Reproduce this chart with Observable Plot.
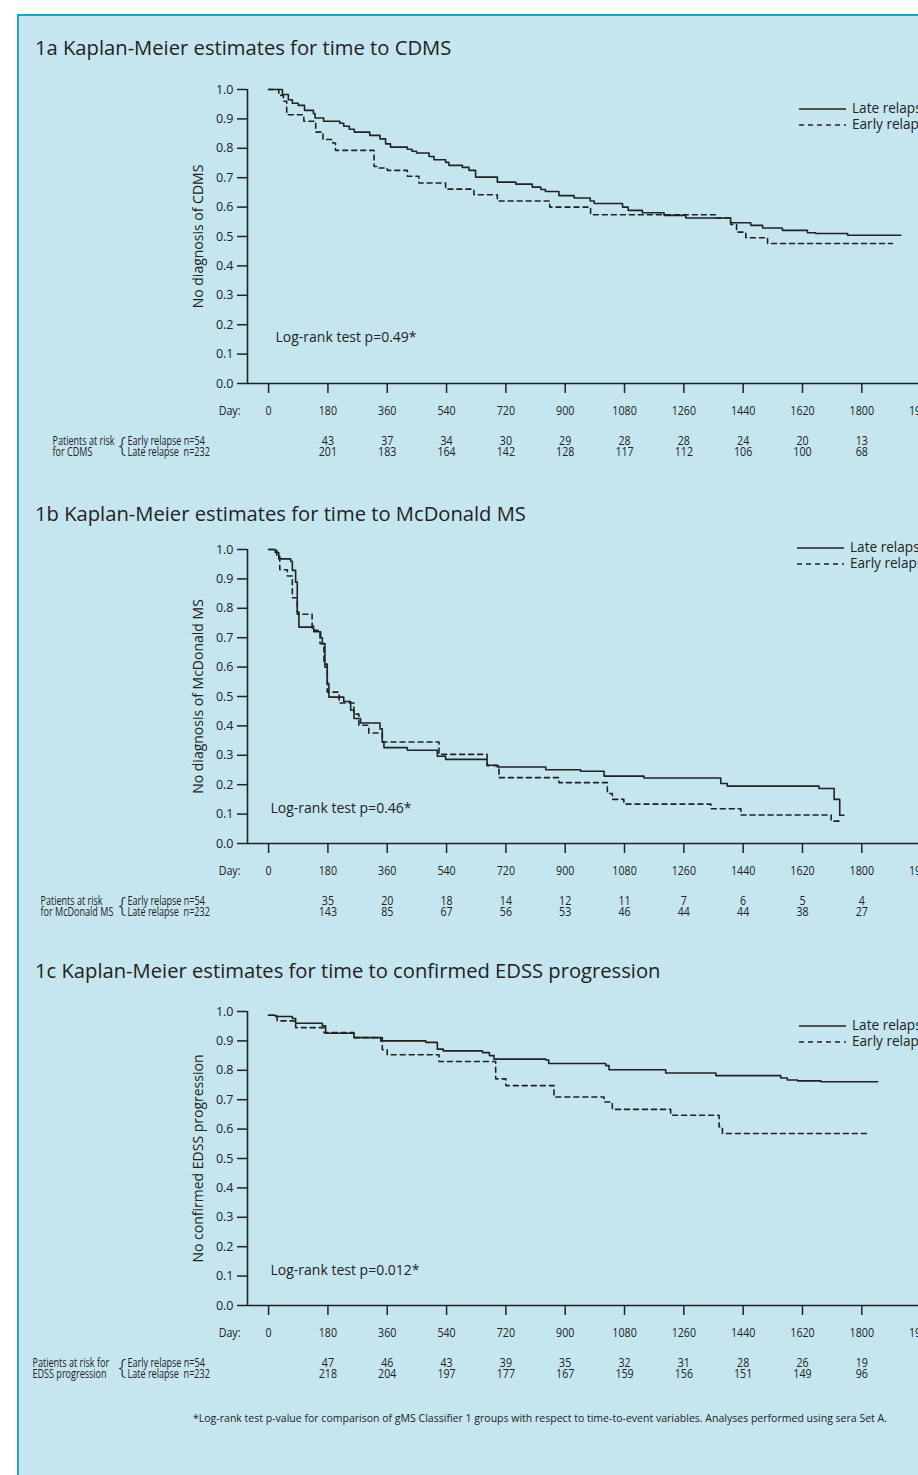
<!DOCTYPE html>
<html><head><meta charset="utf-8">
<script src="https://cdn.jsdelivr.net/npm/d3@7"></script>
<script src="https://cdn.jsdelivr.net/npm/@observablehq/plot@0.6"></script>
<style>
html,body{margin:0;padding:0;background:#fff;overflow:hidden;width:918px;height:1475px;position:relative;}
#box{position:absolute;left:17px;top:14px;width:1100px;height:1500px;background:#c5e6ef;border-left:2.5px solid #1aa4c8;border-top:2.5px solid #1aa4c8;box-sizing:border-box;}
.abs{position:absolute;white-space:nowrap;}
.title{font-family:"Open Sans",sans-serif;font-size:20.2px;line-height:24px;color:#222;}
.legend{font-family:"Open Sans",sans-serif;font-size:13.6px;color:#222;line-height:16px;}
.legend svg{vertical-align:middle;margin-right:6px;}
.foot{font-family:"Open Sans",sans-serif;font-size:11.5px;color:#222;line-height:14px;transform-origin:0 50%;}
svg.chart{max-width:none !important;height:auto;}
</style></head><body>
<div id="box"></div>
<script>
// ---------- data ----------
const dayTicks = [0,180,360,540,720,900,1080,1260,1440,1620,1800,1980];
const yTicks = [0,0.1,0.2,0.3,0.4,0.5,0.6,0.7,0.8,0.9,1.0];

// 1a CDMS
const cdmsLateDays = [0,42,60,72,90,109,136,141,167,216,228,245,260,307,338,355,370,421,435,449,487,502,537,547,588,608,628,694,750,800,826,840,881,927,976,988,1074,1091,1134,1200,1266,1402,1463,1499,1559,1635,1660,1757,1918];
const cdmsLateSurv = [1.0,0.983,0.965,0.953,0.946,0.929,0.918,0.903,0.892,0.885,0.875,0.865,0.855,0.844,0.832,0.815,0.804,0.797,0.79,0.784,0.772,0.761,0.752,0.742,0.735,0.725,0.702,0.685,0.678,0.668,0.66,0.653,0.639,0.631,0.621,0.612,0.60,0.589,0.581,0.572,0.563,0.547,0.538,0.529,0.521,0.513,0.51,0.504,0.504];
const cdmsEarlyDays = [0,31,45,55,107,143,165,195,203,320,331,360,421,456,537,623,694,853,977,1357,1402,1420,1448,1514,1893];
const cdmsEarlySurv = [1.0,0.98,0.96,0.914,0.892,0.855,0.83,0.818,0.793,0.738,0.733,0.725,0.705,0.682,0.661,0.642,0.621,0.60,0.574,0.563,0.541,0.515,0.496,0.476,0.476];
const cdmsRiskEarly = [43,37,34,30,29,28,28,24,20,13,0];
const cdmsRiskLate = [201,183,164,142,128,117,112,106,100,68,0];

// 1b McDonald MS
const mcdLateDays = [0,20,31,67,72,82,87,92,132,137,150,158,163,171,178,183,228,249,259,279,338,345,350,421,512,537,663,694,841,947,1018,1139,1372,1392,1670,1716,1733,1746];
const mcdLateSurv = [1.0,0.99,0.968,0.96,0.929,0.889,0.787,0.736,0.733,0.725,0.72,0.70,0.68,0.60,0.544,0.498,0.483,0.453,0.425,0.41,0.39,0.345,0.326,0.317,0.297,0.286,0.266,0.26,0.251,0.246,0.229,0.223,0.204,0.195,0.187,0.15,0.096,0.096];
const mcdEarlyDays = [0,25,34,57,72,87,132,137,156,168,178,214,259,274,304,345,517,663,699,881,1028,1043,1078,1342,1433,1707,1731];
const mcdEarlySurv = [1.0,0.98,0.931,0.91,0.836,0.78,0.74,0.72,0.68,0.61,0.515,0.478,0.44,0.402,0.376,0.345,0.303,0.265,0.224,0.207,0.17,0.15,0.134,0.118,0.097,0.076,0.076];
const mcdRiskEarly = [35,20,18,14,12,11,7,6,5,4,0];
const mcdRiskLate = [143,85,67,56,53,46,44,44,38,27,0];

// 1c EDSS progression
const edssLateDays = [0,21,72,82,163,173,259,340,477,512,530,649,670,684,841,850,1023,1033,1205,1357,1554,1574,1605,1676,1848];
const edssLateSurv = [0.987,0.983,0.976,0.96,0.951,0.926,0.911,0.90,0.895,0.872,0.866,0.86,0.85,0.838,0.835,0.823,0.816,0.802,0.791,0.782,0.774,0.767,0.764,0.761,0.761];
const edssEarlyDays = [0,26,82,168,259,345,360,517,689,720,866,1018,1043,1220,1367,1377,1817];
const edssEarlySurv = [0.987,0.968,0.945,0.928,0.911,0.87,0.853,0.83,0.771,0.748,0.709,0.692,0.667,0.647,0.607,0.585,0.585];
const edssRiskEarly = [47,46,43,39,35,32,31,28,26,19,0];
const edssRiskLate = [218,204,197,177,167,159,156,151,149,96,0];

const seriesNames = ["Late relapse", "Early relapse"];
const rowLabels = ["Early relapse n=54", "Late relapse\u00a0 n=232"];

// ---------- drawing ----------
const INK = "#222";
const F_REG = "'Open Sans', sans-serif";
const COND_TXT = 0.67;  // horizontal squeeze imitating a condensed face (words)
const COND_NUM = 0.79;  // (numbers)
const xDomain = [-64, 2060];

function put(el, left, top) {
  el.style.position = "absolute"; el.style.left = left + "px"; el.style.top = top + "px";
  document.body.appendChild(el); return el;
}
function div(cls, text, left, top) {
  const d = document.createElement("div"); d.className = "abs " + cls; d.textContent = text;
  return put(d, left, top);
}
function legend(left, top) {
  const wrap = document.createElement("div"); wrap.className = "abs legend";
  seriesNames.forEach((name, i) => {
    const row = document.createElement("div");
    row.innerHTML = `<svg width="47" height="6"><line x1="0" x2="47" y1="3" y2="3" stroke="${INK}" stroke-width="1.5" ${i ? 'stroke-dasharray="5,4"' : ''}/></svg><span>${name}</span>`;
    wrap.appendChild(row);
  });
  return put(wrap, left, top);
}
function condense(svg, selector, k) {
  svg.querySelectorAll(selector).forEach(t => {
    const L = t.getComputedTextLength();
    if (L > 0) {
      t.setAttribute("textLength", (L * k).toFixed(2));
      t.setAttribute("lengthAdjust", "spacingAndGlyphs");
    }
  });
}

function panel(p) {
  const late = p.lateDays.map((d, i) => ({day: d, s: p.lateSurv[i]}));
  const early = p.earlyDays.map((d, i) => ({day: d, s: p.earlySurv[i]}));
  const riskDays = dayTicks.slice(1);
  const rE = riskDays.map((d, i) => ({day: d, n: p.riskEarly[i]}));
  const rL = riskDays.map((d, i) => ({day: d, n: p.riskLate[i]}));
  const T = {fontSize: 13.5, fill: INK, lineAnchor: "middle", className: "cond"};
  const N = {...T, className: "condnum"};
  const chart = Plot.plot({
    width: 929, height: 388, marginLeft: 229, marginRight: 0, marginTop: 14, marginBottom: 80,
    x: {domain: xDomain}, y: {domain: [0, 1]},
    style: {background: "transparent", fontFamily: F_REG, fontSize: "12px", color: INK, overflow: "visible", maxWidth: "none"},
    marks: [
      Plot.axisY(yTicks, {tickSize: 10, tickPadding: 4, tickFormat: d3.format(".1f"), label: null, strokeWidth: 1.5, fontSize: 12.5}),
      Plot.axisX(dayTicks, {tickSize: 10, tickPadding: 12, tickFormat: d => String(d), label: null, fontSize: 13.5, strokeWidth: 1.5, className: "condnum"}),
      Plot.ruleX([xDomain[0]], {stroke: INK, strokeWidth: 1.6}),
      Plot.ruleY([0], {stroke: INK, strokeWidth: 1.6}),
      Plot.line(late, {x: "day", y: "s", curve: "step-after", stroke: INK, strokeWidth: 1.6}),
      Plot.line(early, {x: "day", y: "s", curve: "step-after", stroke: INK, strokeWidth: 1.6, strokeDasharray: "5,4"}),
      Plot.text([p.yLabel], {frameAnchor: "left", rotate: -90, dx: -49, textAnchor: "middle", fontSize: 14, fill: INK}),
      Plot.text([p.logrank], {frameAnchor: "bottom-left", dx: p.lrDx, dy: p.lrDy, textAnchor: "start", lineAnchor: "middle", fontSize: 14, fill: INK}),
      Plot.text(["Day:"], {...N, frameAnchor: "bottom-left", dx: -7, dy: 27, textAnchor: "end"}),
      Plot.text(rE, {...N, x: "day", text: "n", frameAnchor: "bottom", dy: 57}),
      Plot.text(rL, {...N, x: "day", text: "n", frameAnchor: "bottom", dy: 68}),
      Plot.text([rowLabels[0]], {...T, frameAnchor: "bottom-left", dx: -120, dy: 57, textAnchor: "start"}),
      Plot.text([rowLabels[1]], {...T, frameAnchor: "bottom-left", dx: -120, dy: 68, textAnchor: "start"}),
      Plot.text(["{"], {frameAnchor: "bottom-left", dx: -129, dy: 62, lineAnchor: "middle", fontSize: 22, fontWeight: 300, fill: INK}),
      Plot.text([p.left1], {...T, frameAnchor: "bottom-left", dx: p.leftDx, dy: 57, textAnchor: "start"}),
      Plot.text([p.left2], {...T, frameAnchor: "bottom-left", dx: p.leftDx, dy: 68, textAnchor: "start"})
    ]
  });
  chart.classList.add("chart");
  put(chart, 18, p.svgTop);
  condense(chart, "g.cond text", COND_TXT);
  condense(chart, "g.condnum text, g[aria-label='x-axis tick label'] text", COND_NUM);
}

div("title", "1a Kaplan-Meier estimates for time to CDMS", 35, 35);
panel({svgTop: 75, lateDays: cdmsLateDays, lateSurv: cdmsLateSurv, earlyDays: cdmsEarlyDays, earlySurv: cdmsEarlySurv,
  riskEarly: cdmsRiskEarly, riskLate: cdmsRiskLate, yLabel: "No diagnosis of CDMS", logrank: "Log-rank test p=0.49*",
  lrDx: 28, lrDy: -46, left1: "Patients at risk", left2: "for CDMS", leftDx: -195});
legend(799, 100);

div("title", "1b Kaplan-Meier estimates for time to McDonald MS", 35, 501);
panel({svgTop: 535, lateDays: mcdLateDays, lateSurv: mcdLateSurv, earlyDays: mcdEarlyDays, earlySurv: mcdEarlySurv,
  riskEarly: mcdRiskEarly, riskLate: mcdRiskLate, yLabel: "No diagnosis of McDonald MS", logrank: "Log-rank test p=0.46*",
  lrDx: 23, lrDy: -35, left1: "Patients at risk", left2: "for McDonald MS", leftDx: -207});
legend(797, 539);

div("title", "1c Kaplan-Meier estimates for time to confirmed EDSS progression", 35, 958);
panel({svgTop: 997, lateDays: edssLateDays, lateSurv: edssLateSurv, earlyDays: edssEarlyDays, earlySurv: edssEarlySurv,
  riskEarly: edssRiskEarly, riskLate: edssRiskLate, yLabel: "No confirmed EDSS progression", logrank: "Log-rank test p=0.012*",
  lrDx: 23, lrDy: -35, left1: "Patients at risk for", left2: "EDSS progression", leftDx: -215});
legend(799, 1017);

const foot = div("foot", "*Log-rank test p-value for comparison of gMS Classifier 1 groups with respect to time-to-event variables. Analyses performed using sera Set A.", 193, 1411);
foot.style.transform = `scaleX(${694 / foot.getBoundingClientRect().width})`;
</script>
</body></html>
